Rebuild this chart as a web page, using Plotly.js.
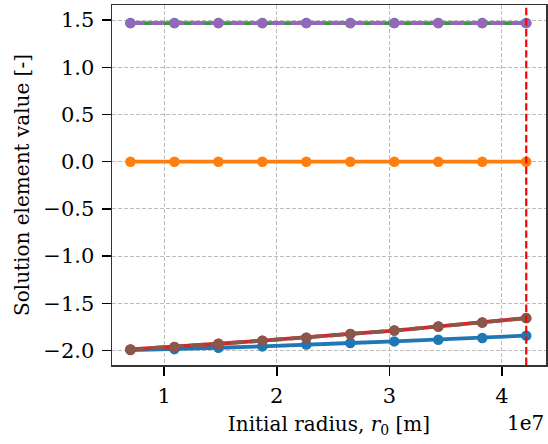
<!DOCTYPE html>
<html>
<head>
<meta charset="utf-8">
<script src="https://cdn.plot.ly/plotly-3.0.1.min.js"></script>
<style>
  html, body { margin: 0; padding: 0; background: #ffffff; }
  #chart { width: 548px; height: 444px; }
</style>
</head>
<body>
<div id="chart"></div>
<script>
// Initial orbit radius r0 [m]
const radius = [7.0e6, 1.0907e7, 1.4814e7, 1.8721e7, 2.2628e7, 2.6536e7, 3.0443e7, 3.4350e7, 3.8257e7, 4.2164e7];

// Solution vector elements at each radius
const element0 = [-1.995, -1.986, -1.971, -1.957, -1.936, -1.921, -1.904, -1.886, -1.868, -1.843];
const element1 = [0, 0, 0, 0, 0, 0, 0, 0, 0, 0];
const element2 = [1.468, 1.468, 1.468, 1.468, 1.468, 1.468, 1.468, 1.468, 1.468, 1.468];
const element3 = [-1.989, -1.964, -1.929, -1.896, -1.864, -1.825, -1.789, -1.746, -1.704, -1.657];
const element4 = [1.468, 1.468, 1.468, 1.468, 1.468, 1.468, 1.468, 1.468, 1.468, 1.468];
const element5 = [-1.989, -1.964, -1.929, -1.896, -1.864, -1.825, -1.789, -1.746, -1.704, -1.657];

// Geostationary radius marker
const geoRadius = 4.2164e7;

const xTickVals = [1e7, 2e7, 3e7, 4e7];
const xTickText = ['1', '2', '3', '4'];
const yTickVals = [-2.0, -1.5, -1.0, -0.5, 0.0, 0.5, 1.0, 1.5];

const series = [
  { y: element0, color: '#1f77b4', dash: 'solid' },
  { y: element1, color: '#ff7f0e', dash: 'solid' },
  { y: element2, color: '#2ca02c', dash: 'solid' },
  { y: element3, color: '#d62728', dash: 'solid' },
  { y: element4, color: '#9467bd', dash: '14px,6px' },
  { y: element5, color: '#8c564b', dash: '14px,6px' }
];

const traces = series.map(s => ({
  x: radius,
  y: s.y,
  type: 'scatter',
  mode: 'lines+markers',
  line: { color: s.color, width: 3.8, dash: s.dash },
  marker: { color: s.color, size: 10.5 },
  showlegend: false,
  hoverinfo: 'x+y'
}));

const fontFamily = '"DejaVu Serif", serif';
const fontSize = 20;
const tickSize = 21;

const layout = {
  width: 548,
  height: 444,
  margin: { l: 112, r: 2, t: 5, b: 79 },
  paper_bgcolor: '#ffffff',
  plot_bgcolor: '#ffffff',
  font: { family: fontFamily, size: fontSize, color: '#000000' },
  xaxis: {
    range: [0.536e7, 4.392e7],
    tickvals: xTickVals,
    ticktext: xTickText,
    tickfont: { family: fontFamily, size: tickSize },
    ticks: 'outside',
    ticklen: 9,
    tickwidth: 1.5,
    tickcolor: '#000000',
    ticklabelstandoff: 2,
    showgrid: true,
    gridcolor: '#bcbcbc',
    gridwidth: 1,
    griddash: '4px,2px',
    zeroline: false,
    showline: true,
    linecolor: '#333333',
    linewidth: 1.5,
    mirror: true,
    title: { text: 'Initial radius, <i>r</i><sub>0</sub> [m]', font: { family: fontFamily, size: fontSize }, standoff: 10 }
  },
  yaxis: {
    range: [-2.154, 1.66],
    tickvals: yTickVals,
    tickformat: '.1f',
    tickfont: { family: fontFamily, size: tickSize },
    ticks: 'outside',
    ticklen: 9,
    tickwidth: 1.5,
    tickcolor: '#000000',
    ticklabelstandoff: 3,
    showgrid: true,
    gridcolor: '#bcbcbc',
    gridwidth: 1,
    griddash: '4px,2px',
    zeroline: false,
    showline: true,
    linecolor: '#333333',
    linewidth: 1.5,
    mirror: true,
    title: { text: 'Solution element value [-]', font: { family: fontFamily, size: fontSize }, standoff: 8 }
  },
  shapes: [{
    type: 'line',
    xref: 'x', yref: 'paper',
    x0: geoRadius, x1: geoRadius, y0: 0, y1: 1,
    line: { color: '#ff0000', width: 2.2, dash: '7.4px,3.2px' }
  }],
  annotations: [{
    text: '1e7',
    xref: 'paper', yref: 'paper',
    x: 1, y: 0,
    xanchor: 'right', yanchor: 'top',
    yshift: -44,
    showarrow: false,
    font: { family: fontFamily, size: fontSize }
  }]
};

Plotly.newPlot('chart', traces, layout, { displayModeBar: false, staticPlot: true });
</script>
</body>
</html>
